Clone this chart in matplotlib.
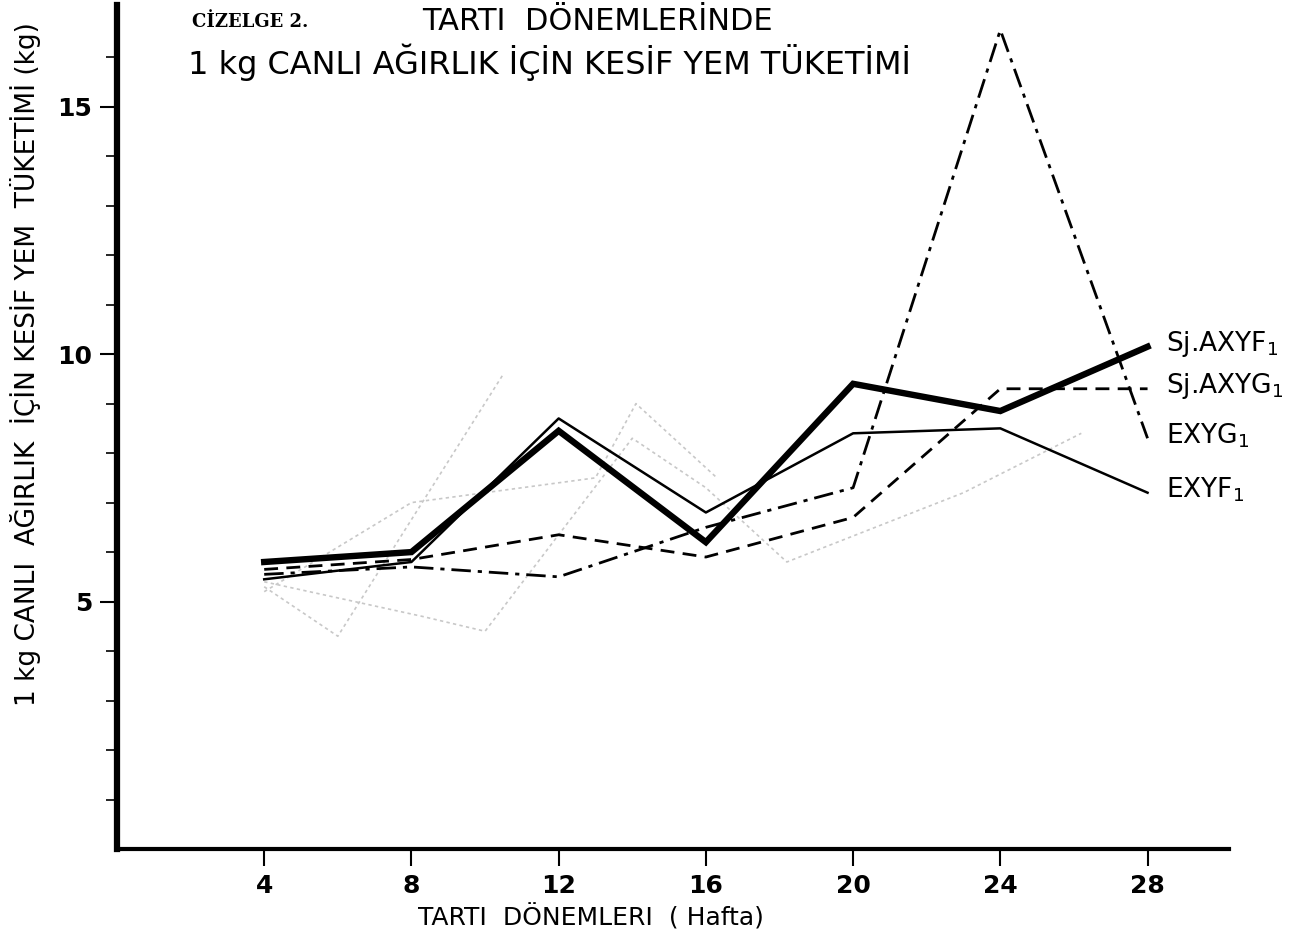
import matplotlib
matplotlib.use("Agg")
import matplotlib.pyplot as plt

# weighing periods (weeks)
weeks = [4, 8, 12, 16, 20, 24, 28]

# feed consumption per 1 kg live weight (kg)
sj_axyf1 = [5.8, 6.0, 8.45, 6.2, 9.4, 8.85, 10.15]
sj_axyg1 = [5.65, 5.85, 6.35, 5.9, 6.7, 9.3, 9.3]
exyg1 = [5.55, 5.7, 5.5, 6.5, 7.3, 16.55, 8.3]
exyf1 = [5.45, 5.8, 8.7, 6.8, 8.4, 8.5, 7.2]

series_labels = ["Sj.AXYF$_1$", "Sj.AXYG$_1$", "EXYG$_1$", "EXYF$_1$"]
label_y = [10.15, 9.3, 8.3, 7.2]

# faint show-through lines from the other side of the page
ghost_x = [[4, 6, 10.5], [4, 8.3, 10, 14, 16, 18.2, 23, 26.2], [4, 8, 13, 14.1, 16.3]]
ghost_y = [[5.3, 4.3, 9.6], [5.4, 4.7, 4.4, 8.3, 7.3, 5.8, 7.2, 8.4], [5.2, 7.0, 7.5, 9.0, 7.5]]

narrow = ["DejaVu Sans Condensed", "Liberation Sans Narrow", "DejaVu Sans"]

fig = plt.figure(figsize=(12.94, 9.46), dpi=100)
ax = fig.add_axes([0.0904, 0.1025, 0.859, 0.892])

for gx, gy in zip(ghost_x, ghost_y):
    ax.plot(gx, gy, color="#c8c8c8", lw=1.2, ls=(0, (2, 2)))

ax.plot(weeks, sj_axyf1, color="black", lw=4.6, solid_joinstyle="miter")
ax.plot(weeks, sj_axyg1, color="black", lw=2.0, ls=(0, (5, 3)))
ax.plot(weeks, exyg1, color="black", lw=2.0, ls=(0, (7, 2.5, 1.5, 2.5)))
ax.plot(weeks, exyf1, color="black", lw=1.8)

for lab, ly in zip(series_labels, label_y):
    ax.text(28.5, ly + 0.05, lab, fontsize=19, family=narrow,
            va="center", ha="left", clip_on=False)

ax.set_xlim(0, 30.2)
ax.set_ylim(0, 17.05)
ax.set_xticks(weeks)
ax.set_xticklabels([str(w) for w in weeks], family=narrow, fontsize=18, fontweight="bold")
ax.set_yticks([5, 10, 15])
ax.set_yticklabels(["5", "10", "15"], family=narrow, fontsize=18, fontweight="bold")
ax.set_yticks(range(1, 17), minor=True)
ax.tick_params(axis="both", which="major", length=12, width=1.5, direction="out", pad=6)
ax.tick_params(axis="y", which="minor", length=8, width=1.2, direction="out")

for s in ["top", "right"]:
    ax.spines[s].set_visible(False)
ax.spines["left"].set_linewidth(4.5)
ax.spines["bottom"].set_linewidth(3)

ax.set_xlabel("TARTI  DÖNEMLERI  ( Hafta)", family=narrow, fontsize=18)
ax.xaxis.set_label_coords(0.426, -0.065)
ax.set_ylabel("1 kg CANLI  AĞIRLIK  İÇİN KESİF YEM  TÜKETİMİ (kg)", family=narrow,
              fontsize=19)
ax.yaxis.set_label_coords(-0.068, 0.575)

fig.text(0.148, 0.977, "CİZELGE 2.", family="DejaVu Serif", fontsize=13,
         fontweight="bold", va="center")
fig.text(0.462, 0.977, "TARTI  DÖNEMLERİNDE", family=narrow, fontsize=22, va="center",
         ha="center")
fig.text(0.425, 0.934, "1 kg CANLI AĞIRLIK İÇİN KESİF YEM TÜKETİMİ", family=narrow,
         fontsize=23, va="center", ha="center")

fig.savefig("out.png", dpi=100)
